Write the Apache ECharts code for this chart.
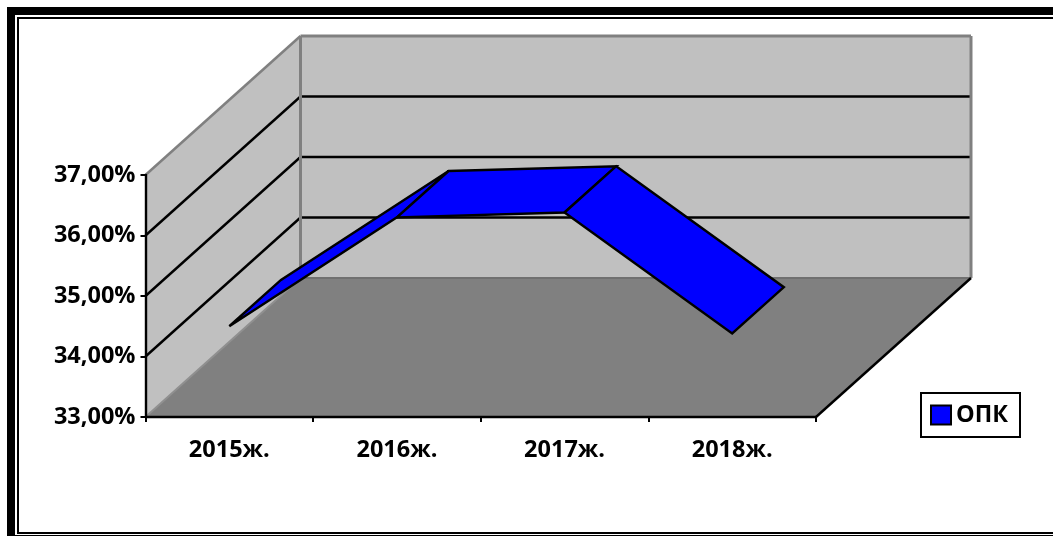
<!DOCTYPE html>
<html><head><meta charset="utf-8">
<style>html,body{margin:0;padding:0;background:#fff}#c{width:1053px;height:536px}</style>
<script src="https://cdn.jsdelivr.net/npm/echarts@6/dist/echarts.min.js"></script>
</head><body><div id="c"></div>
<script>
const categories = ['2015ж.', '2016ж.', '2017ж.', '2018ж.'];
const seriesName = 'ОПК';
const values = [34.5, 36.3, 36.38, 34.38];
const gridValues = [34, 35, 36];
const axisMin = 33, axisMax = 37, axisStep = 1;

// Oblique projection of the 3-D chamber (pixels per full depth)
const DX = 155, DY = -139, RIBBON = 1 / 3;
const WALL = '#C0C0C0', FLOOR = '#808080', EDGE = '#808080', BLUE = '#0000FF';

function pt(api, cat, val, depth) {
  const c = api.coord([cat, val]);
  return [c[0] + depth * DX, c[1] + depth * DY];
}
function edgePt(api, side, val, depth) {
  const band = api.size([1, 0])[0];
  const cat = side === 'l' ? 0 : categories.length - 1;
  const c = api.coord([cat, val]);
  return [c[0] + (side === 'l' ? -band / 2 : band / 2) + depth * DX, c[1] + depth * DY];
}
function poly(points, fill, stroke, lw) {
  return { type: 'polygon', shape: { points },
    style: { fill, stroke: stroke || null, lineWidth: lw || 0, lineJoin: 'miter', miterLimit: 3 } };
}
function seg(a, b, stroke, lw) {
  return { type: 'line', shape: { x1: a[0], y1: a[1], x2: b[0], y2: b[1] }, style: { stroke, lineWidth: lw } };
}

function renderChamber(params, api) {
  const e = (s, v, d) => edgePt(api, s, v, d);
  const kids = [];
  kids.push(poly([e('l', axisMin, 0), e('l', axisMin, 1), e('l', axisMax, 1), e('l', axisMax, 0)], WALL));
  kids.push(poly([e('l', axisMin, 1), e('r', axisMin, 1), e('r', axisMax, 1), e('l', axisMax, 1)], WALL));
  gridValues.forEach(v => {
    kids.push(seg(e('l', v, 0), e('l', v, 1), '#000', 2.4));
    kids.push(seg(e('l', v, 1), e('r', v, 1), '#000', 2.4));
  });
  kids.push(poly([e('l', axisMin, 0), e('r', axisMin, 0), e('r', axisMin, 1), e('l', axisMin, 1)], FLOOR));
  kids.push(seg(e('l', axisMax, 0), e('l', axisMax, 1), EDGE, 2.5));
  kids.push(seg(e('l', axisMin, 0), e('l', axisMin, 1), '#909090', 2));
  kids.push(seg(e('l', axisMin, 1), e('l', axisMax, 1), EDGE, 3));
  kids.push(seg(e('l', axisMax, 1), e('r', axisMax, 1), EDGE, 3));
  kids.push(seg(e('r', axisMin, 1), e('r', axisMax, 1), EDGE, 3));
  kids.push(seg(e('l', axisMin, 1), e('r', axisMin, 1), '#707070', 2));
  kids.push(seg(e('r', axisMin, 0), e('r', axisMin, 1), '#000', 2.4));
  return { type: 'group', children: kids };
}

function renderRibbon(params, api) {
  const i = api.value(0);
  if (i >= values.length - 1) return null;
  const v0 = values[i], v1 = values[i + 1];
  return poly([pt(api, i, v0, 0), pt(api, i + 1, v1, 0), pt(api, i + 1, v1, RIBBON), pt(api, i, v0, RIBBON)], BLUE, '#000', 2.4);
}

const labelFont = { fontFamily: 'Open Sans', fontWeight: 'bold', fontSize: 23.5, color: '#000' };
const chart = echarts.init(document.getElementById('c'), null, { renderer: 'canvas' });
chart.setOption({
  animation: false,
  backgroundColor: '#fff',
  grid: { left: 145.5, right: 237, top: 175, bottom: 119, containLabel: false },
  xAxis: { type: 'category', data: categories, z: 10,
    axisLine: { onZero: false, lineStyle: { color: '#000', width: 2.4 } },
    axisTick: { show: true, length: 5, lineStyle: { color: '#000', width: 2 } },
    axisLabel: Object.assign({ margin: 21, interval: 0 }, labelFont),
    splitLine: { show: false } },
  yAxis: { type: 'value', min: axisMin, max: axisMax, interval: axisStep, z: 10,
    axisLine: { show: true, lineStyle: { color: '#000', width: 2.4 } },
    axisTick: { show: true, length: 5, lineStyle: { color: '#000', width: 2 } },
    axisLabel: Object.assign({ margin: 10, formatter: v => v.toFixed(2).replace('.', ',') + '%' }, labelFont),
    splitLine: { show: false } },
  legend: { show: true, data: [seriesName], left: 921, top: 393, orient: 'horizontal',
    backgroundColor: '#fff', borderColor: '#000', borderWidth: 2, borderRadius: 0,
    padding: [10, 12, 10, 9], itemWidth: 20, itemHeight: 19, itemGap: 0, icon: 'rect',
    textStyle: Object.assign({}, labelFont) },
  graphic: [
    { type: 'rect', silent: true, z: 100, shape: { x: 7, y: 7, width: 1046, height: 8 }, style: { fill: '#000' } },
    { type: 'rect', silent: true, z: 100, shape: { x: 7, y: 7, width: 8, height: 529 }, style: { fill: '#000' } },
    { type: 'rect', silent: true, z: 100, shape: { x: 17, y: 17, width: 1036, height: 2 }, style: { fill: '#000' } },
    { type: 'rect', silent: true, z: 100, shape: { x: 17, y: 17, width: 2, height: 517 }, style: { fill: '#000' } },
    { type: 'rect', silent: true, z: 100, shape: { x: 17, y: 532, width: 1036, height: 2 }, style: { fill: '#000' } },
    { type: 'rect', silent: true, z: 100, shape: { x: 15, y: 535, width: 1038, height: 1 }, style: { fill: '#000' } }
  ],
  series: [
    { type: 'custom', name: 'chamber', coordinateSystem: 'cartesian2d', silent: true, z: 1, clip: false,
      renderItem: renderChamber, data: [[0, axisMin]], encode: { x: 0, y: 1 } },
    { type: 'custom', name: seriesName, coordinateSystem: 'cartesian2d', z: 2, clip: false,
      itemStyle: { color: BLUE, borderColor: '#000', borderWidth: 2 },
      renderItem: renderRibbon, data: values.map((v, i) => [i, v]), encode: { x: 0, y: 1 } }
  ]
});
</script></body></html>
